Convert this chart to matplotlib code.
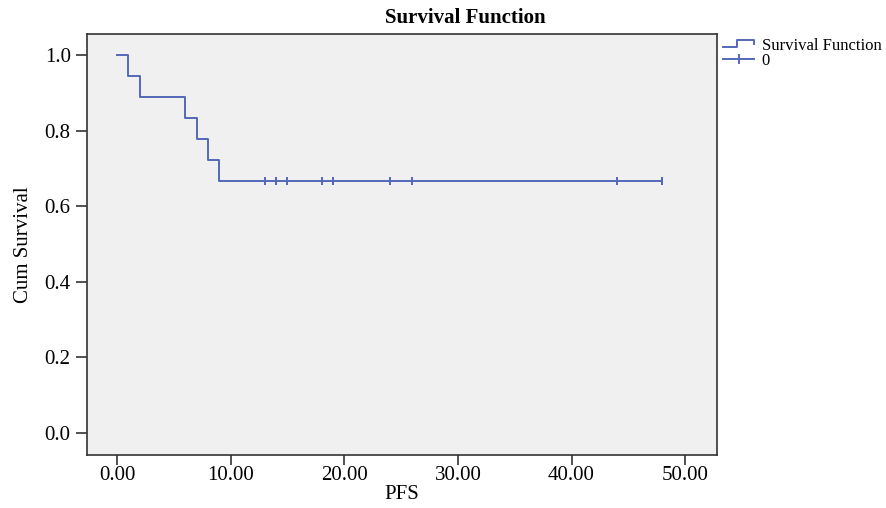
import numpy as np
import matplotlib
matplotlib.use("Agg")
import matplotlib.pyplot as plt
from matplotlib.legend_handler import HandlerBase
from matplotlib.lines import Line2D

# datos del grafico (PFS)
n_total = 18
event_times = [1, 2, 6, 7, 8, 9]
censor_times = [13, 14, 14, 15, 18, 19, 19, 24, 26, 44, 48, 48]
last_time = 48

x_ticks = [0, 10, 20, 30, 40, 50]
y_ticks = [0.0, 0.2, 0.4, 0.6, 0.8, 1.0]

color = '#5468b8'
serif = ['Liberation Serif', 'DejaVu Serif']

# Kaplan-Meier
t = [0]
s = [1.0]
at_risk = n_total
surv = 1.0
todos = sorted([(v, 1) for v in event_times] + [(v, 0) for v in censor_times])
for tiempo, ev in todos:
    if ev == 1:
        surv = surv * (at_risk - 1) / at_risk
        t.append(tiempo)
        s.append(surv)
    at_risk -= 1
t.append(last_time)
s.append(surv)

def surv_at(x):
    val = 1.0
    for ti, si in zip(t, s):
        if ti <= x:
            val = si
    return val

cens_y = [surv_at(c) for c in censor_times]

fig = plt.figure(figsize=(8.86, 5.08), dpi=100)
ax = fig.add_axes([86.7/886, 1 - 455/508, (717 - 86.7)/886, (455 - 34)/508])
ax.set_facecolor('#f0f0f0')

ax.step(t, s, where='post', color=color, lw=1.4)
ax.plot(censor_times, cens_y, ls='none', marker='|', ms=5.5, mew=1.4, color=color)

ax.set_xlim(-2.67, 52.8)
ax.set_ylim(-0.058, 1.056)
ax.set_xticks(x_ticks)
ax.set_xticklabels(['%.2f' % v for v in x_ticks])
ax.set_yticks(y_ticks)
ax.set_yticklabels(['%.1f' % v for v in y_ticks])
ax.tick_params(direction='out', length=8, width=1.2, color='#333333', labelsize=15)
ax.tick_params(axis='x', length=7, pad=1)
for lab in ax.get_xticklabels() + ax.get_yticklabels():
    lab.set_family(serif)
for sp in ax.spines.values():
    sp.set_color('#333333')
    sp.set_linewidth(1.2)

ax.set_xlabel('PFS', family=serif, fontsize=15, labelpad=0)
ax.set_ylabel('Cum Survival', family=serif, fontsize=15, labelpad=8)
fig.text(465/886, 1 - 18/508, 'Survival Function', family=serif, fontsize=15,
         fontweight='bold', ha='center', va='center')

# leyenda con icono escalonado
class StepHandler(HandlerBase):
    def create_artists(self, legend, orig, xd, yd, w, h, fs, trans):
        xs = [xd, xd + w*0.45, xd + w*0.45, xd + w, xd + w]
        ys = [yd + h*0.2, yd + h*0.2, yd + h*0.8, yd + h*0.8, yd + h*0.5]
        return [Line2D(xs, ys, color=color, lw=1.4, transform=trans)]

h1 = Line2D([], [], color=color)
h2 = Line2D([], [], color=color, marker='|', ms=7, mew=1.4, lw=1.4)
fig.legend([h1, h2], ['Survival Function', '0'], handler_map={h1: StepHandler()},
           loc='upper left', bbox_to_anchor=(711/886, 1 - 26/508), frameon=False,
           prop={'family': serif, 'size': 12}, handlelength=1.9, handletextpad=0.45,
           labelspacing=-0.05, borderpad=0.2)

plt.savefig('out.png', dpi=100)
